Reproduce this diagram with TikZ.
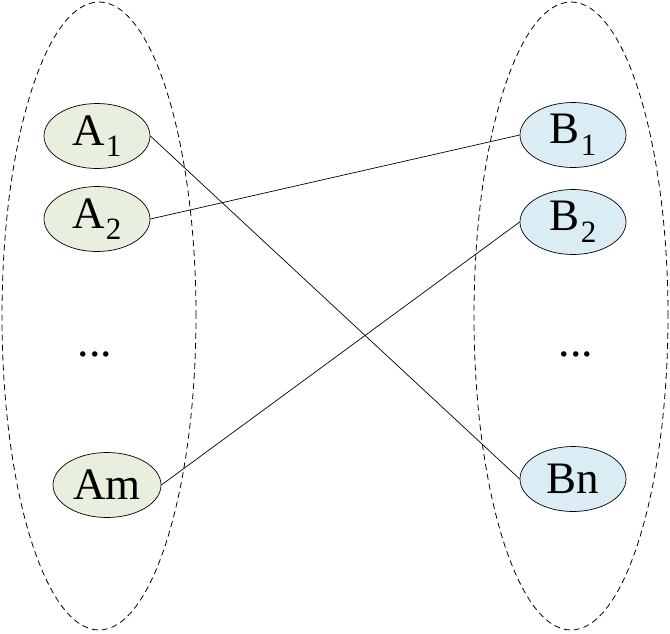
\documentclass[tikz,border=0pt]{standalone}
\usepackage{fontspec}
\setmainfont{Liberation Serif}
\usetikzlibrary{shapes.geometric}
\definecolor{afill}{RGB}{232,239,222}
\definecolor{bfill}{RGB}{219,237,244}
\newcommand{\subx}[1]{\hspace{1pt}\raisebox{-0.26em}{\fontsize{31}{31}\selectfont #1}}
\begin{document}
\begin{tikzpicture}[x=1pt,y=-1pt,
  setell/.style={draw, dashed, dash pattern=on 6pt off 4pt, line width=0.8pt},
  elem/.style={ellipse, draw, line width=0.7pt, minimum width=106pt, minimum height=65pt, inner sep=0pt, font=\fontsize{45}{45}\selectfont},
  anode/.style={elem, fill=afill},
  bnode/.style={elem, fill=bfill},
  dots/.style={anchor=base, font=\fontsize{46}{46}\selectfont},
  link/.style={draw, line width=0.7pt}]
\useasboundingbox (0,0) rectangle (670,633);
\node[setell, ellipse, minimum width=194pt, minimum height=628pt, inner sep=0pt] (SA) at (99,316) {};
\node[setell, ellipse, minimum width=194pt, minimum height=628pt, inner sep=0pt] (SB) at (571,316) {};
\node[anode] (A1) at (97,136) {A\subx{1}};
\node[anode] (A2) at (97,219) {A\subx{2}};
\node[anode, minimum width=108pt] (Am) at (107,485) {Am};
\node[bnode] (B1) at (573,135) {B\subx{1}};
\node[bnode] (B2) at (573,222) {B\subx{2}};
\node[bnode] (Bn) at (573,479) {Bn};
\node[dots] (da) at (95,356) {...};
\node[dots] (db) at (576,356) {...};
\draw[link] (A1.east) -- (Bn.west);
\draw[link] (A2.east) -- (B1.west);
\draw[link] (Am.east) -- (B2.west);
\end{tikzpicture}
\end{document}
